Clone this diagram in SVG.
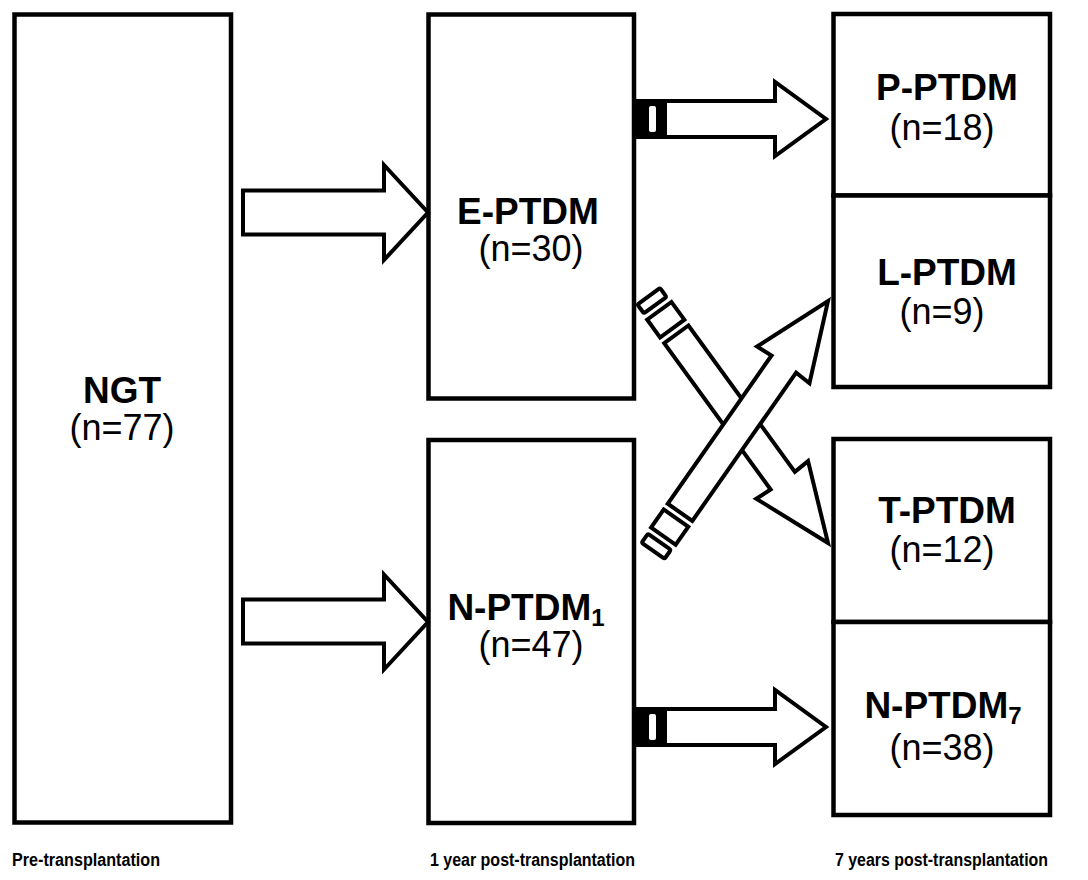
<svg xmlns="http://www.w3.org/2000/svg" xmlns:xlink="http://www.w3.org/1999/xlink" width="1088" height="880" viewBox="0 0 1088 880">
<style>
.box{fill:#fff;stroke:#000;stroke-width:4.5}
.arr{fill:#fff;stroke:#000;stroke-width:4;stroke-linejoin:miter}
.t{font-family:"Liberation Sans",Arial,sans-serif;font-size:37px;font-weight:bold;text-anchor:middle;fill:#000}
.n{font-family:"Liberation Sans",Arial,sans-serif;font-size:36px;text-anchor:middle;fill:#000}
.lab{font-family:"Liberation Sans",Arial,sans-serif;font-size:18px;font-weight:bold;fill:#000}
</style>
<defs>
<g id="diag">
<polygon class="arr" points="0,0 -78,32 -77,15 -258,15 -258,-15 -77,-15 -78,-32"/>
<rect class="arr" x="-287" y="-15" width="22" height="30"/>
<rect class="arr" x="-305" y="-14" width="11" height="28" rx="2"/>
</g>
</defs>
<rect width="1088" height="880" fill="#fff"/>
<g id="ngt">
<rect class="box" x="14.5" y="14.5" width="216.5" height="808"/>
<text class="t" x="122" y="403">NGT</text>
<text class="n" x="122" y="440">(n=77)</text>
</g>
<g id="e-ptdm">
<rect class="box" x="428.5" y="14.5" width="205.5" height="384"/>
<text class="t" x="528" y="224">E-PTDM</text>
<text class="n" x="531" y="261">(n=30)</text>
</g>
<g id="n-ptdm1">
<rect class="box" x="428.5" y="440" width="205.5" height="383"/>
<text class="t" x="526" y="620">N-PTDM<tspan font-size="24" dy="6">1</tspan></text>
<text class="n" x="531" y="657">(n=47)</text>
</g>
<g id="p-ptdm">
<rect class="box" x="833.5" y="14" width="216.5" height="181.5"/>
<text class="t" x="947" y="100">P-PTDM</text>
<text class="n" x="942" y="140">(n=18)</text>
</g>
<g id="l-ptdm">
<rect class="box" x="833.5" y="195.5" width="216.5" height="191.5"/>
<text class="t" x="947" y="285">L-PTDM</text>
<text class="n" x="942" y="324">(n=9)</text>
</g>
<g id="t-ptdm">
<rect class="box" x="833.5" y="439" width="216.5" height="183"/>
<text class="t" x="947" y="523">T-PTDM</text>
<text class="n" x="942" y="562">(n=12)</text>
</g>
<g id="n-ptdm7">
<rect class="box" x="833.5" y="622" width="216.5" height="193"/>
<text class="t" x="943" y="718">N-PTDM<tspan font-size="24" dy="6">7</tspan></text>
<text class="n" x="942" y="760">(n=38)</text>
</g>
<g id="connectors">
<polygon class="arr" points="243,190.5 384,190.5 384,165 428,212.5 384,260 384,234.5 243,234.5"/>
<polygon class="arr" points="243,599.5 384,599.5 384,574.5 428,622 384,669.5 384,643.5 243,643.5"/>
<polygon class="arr" points="634,101 775,101 775,82 826,119 775,156 775,137 634,137"/>
<rect x="634" y="101" width="33" height="36" fill="#000"/>
<rect x="649" y="106" width="7" height="26" rx="2" fill="#fff"/>
<polygon class="arr" points="634,709 775,709 775,690 826,727 775,764 775,745 634,745"/>
<rect x="634" y="709" width="33" height="36" fill="#000"/>
<rect x="649" y="714" width="7" height="26" rx="2" fill="#fff"/>
<use xlink:href="#diag" transform="translate(828,543) rotate(54)"/>
<use xlink:href="#diag" transform="translate(828,301) rotate(-55)"/>
</g>
<g id="labels">
<text class="lab" x="12" y="866" textLength="148" lengthAdjust="spacingAndGlyphs">Pre-transplantation</text>
<text class="lab" x="430" y="866" textLength="205" lengthAdjust="spacingAndGlyphs">1 year post-transplantation</text>
<text class="lab" x="1048" y="866" text-anchor="end" textLength="213" lengthAdjust="spacingAndGlyphs">7 years post-transplantation</text>
</g>
</svg>
